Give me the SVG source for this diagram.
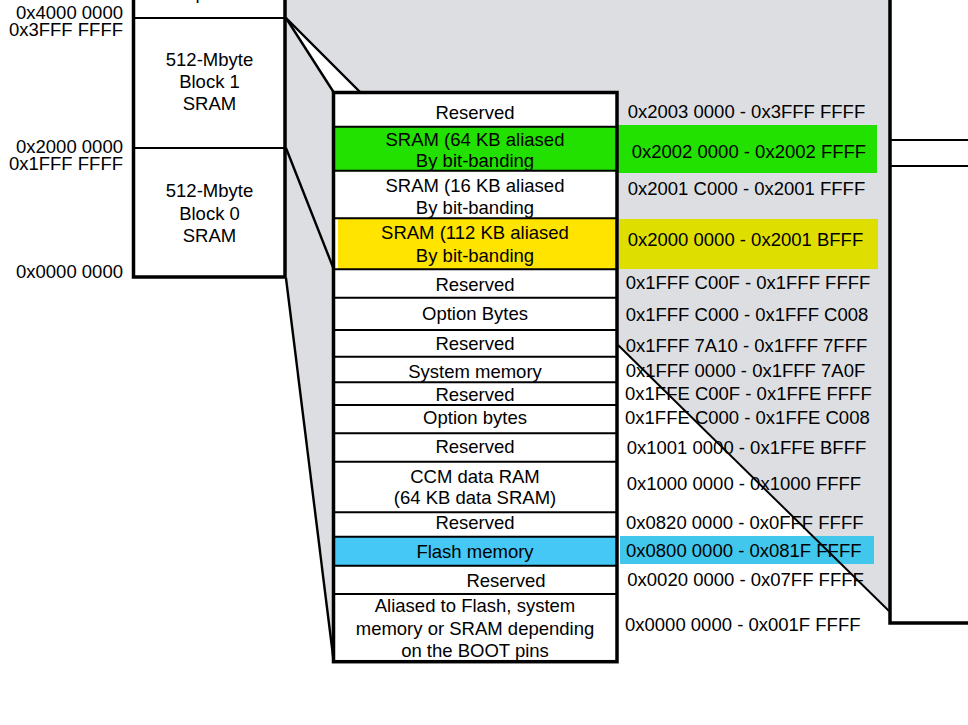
<svg xmlns="http://www.w3.org/2000/svg" width="968" height="725" viewBox="0 0 968 725">
<style>
text{font-family:"Liberation Sans",Arial,sans-serif;font-size:18.5px;fill:#000}
.c{text-anchor:middle}
.r{text-anchor:end}
.row{fill:#fff}
.dv{stroke:#000;stroke-width:2;fill:none}
.bd{stroke:#000;stroke-width:3.5;fill:none}
.cn{stroke:#000;stroke-width:2.4;fill:none}
</style>
<rect width="968" height="725" fill="#fff"/>
<g id="zoom-background">
<polygon points="286,0 890,0 890,612 618,344 333,662 286,278" fill="#DDDEE1"/>
<polygon points="286,18 360,92 333,92" fill="#fff"/>
</g>
<g id="left-column">
<rect x="133.5" y="-5" width="151.5" height="282" fill="#fff"/>
<g id="block-peripherals">
<text class="c" x="209.5" y="-1">Peripherals</text>
</g>
<g id="block1-sram">
<text class="c" x="209.5" y="65.7">512-Mbyte</text>
<text class="c" x="209.5" y="88">Block 1</text>
<text class="c" x="209.5" y="110">SRAM</text>
</g>
<g id="block0-sram">
<text class="c" x="209.5" y="197">512-Mbyte</text>
<text class="c" x="209.5" y="219.5">Block 0</text>
<text class="c" x="209.5" y="241.5">SRAM</text>
</g>
<path class="dv" d="M133.5,18H285M133.5,148H285"/>
<path class="bd" d="M133.5,-5V277H285V-5"/>
<g id="left-addresses">
<text class="r" x="123" y="19">0x4000 0000</text>
<text class="r" x="123" y="36">0x3FFF FFFF</text>
<text class="r" x="123" y="152.5">0x2000 0000</text>
<text class="r" x="123" y="170">0x1FFF FFFF</text>
<text class="r" x="123" y="277.5">0x0000 0000</text>
</g>
</g>
<g id="right-block">
<rect x="890" y="-5" width="85" height="628" fill="#fff"/>
<path class="dv" d="M890,140H968M890,166H968"/>
<path class="bd" d="M890,-5V623H975"/>
</g>
<g id="address-highlights">
<rect x="618" y="125" width="259" height="48" fill="#22E000"/>
<rect x="619" y="219" width="259" height="50" fill="#DEDE00"/>
<rect x="620" y="536" width="254" height="28" fill="#42C7EC"/>
</g>
<g id="sram-table">
<g id="row-reserved-1"><rect class="row" x="333" y="92.5" width="284" height="34.2"/><text class="c" x="475" y="119">Reserved</text></g>
<g id="row-sram-64kb"><rect x="333" y="126.7" width="284" height="44" fill="#22E000"/><text class="c" x="475" y="146">SRAM (64 KB aliased</text><text class="c" x="475" y="167.3">By bit-banding</text></g>
<g id="row-sram-16kb"><rect class="row" x="333" y="170.7" width="284" height="47.6"/><text class="c" x="475" y="191.7">SRAM (16 KB aliased</text><text class="c" x="475" y="214">By bit-banding</text></g>
<g id="row-sram-112kb"><rect class="row" x="333" y="218.3" width="284" height="51"/><rect x="338" y="218.3" width="279" height="51" fill="#FFE400"/><text class="c" x="475" y="239">SRAM (112 KB aliased</text><text class="c" x="475" y="261.7">By bit-banding</text></g>
<g id="row-reserved-2"><rect class="row" x="333" y="269.3" width="284" height="28.4"/><text class="c" x="475" y="290.7">Reserved</text></g>
<g id="row-option-bytes-1"><rect class="row" x="333" y="297.7" width="284" height="32.3"/><text class="c" x="475" y="320">Option Bytes</text></g>
<g id="row-reserved-3"><rect class="row" x="333" y="330" width="284" height="26.7"/><text class="c" x="475" y="350">Reserved</text></g>
<g id="row-system-memory"><rect class="row" x="333" y="356.7" width="284" height="25.6"/><text class="c" x="475" y="378.3">System memory</text></g>
<g id="row-reserved-4"><rect class="row" x="333" y="382.3" width="284" height="22.7"/><text class="c" x="475" y="400.7">Reserved</text></g>
<g id="row-option-bytes-2"><rect class="row" x="333" y="405" width="284" height="28.3"/><text class="c" x="475" y="424.3">Option bytes</text></g>
<g id="row-reserved-5"><rect class="row" x="333" y="433.3" width="284" height="28.4"/><text class="c" x="475" y="452.7">Reserved</text></g>
<g id="row-ccm"><rect class="row" x="333" y="461.7" width="284" height="50.6"/><text class="c" x="475" y="482.7">CCM data RAM</text><text class="c" x="475" y="504.3">(64 KB data SRAM)</text></g>
<g id="row-reserved-6"><rect class="row" x="333" y="512.3" width="284" height="24.4"/><text class="c" x="475" y="529.3">Reserved</text></g>
<g id="row-flash"><rect x="333" y="536.7" width="284" height="29" fill="#45C8F5"/><text class="c" x="475" y="557.7">Flash memory</text></g>
<g id="row-reserved-7"><rect class="row" x="333" y="565.7" width="284" height="28.3"/><text class="c" x="506" y="586.7">Reserved</text></g>
<g id="row-aliased"><rect class="row" x="333" y="594" width="284" height="67.7"/><text class="c" x="475" y="611.7">Aliased to Flash, system</text><text class="c" x="475" y="635">memory or SRAM depending</text><text class="c" x="475" y="656.7">on the BOOT pins</text></g>
<path class="dv" d="M333,126.7H617M333,170.7H617M333,218.3H617M333,269.3H617M333,297.7H617M333,330H617M333,356.7H617M333,382.3H617M333,405H617M333,433.3H617M333,461.7H617M333,512.3H617M333,536.7H617M333,565.7H617M333,594H617"/>
<rect class="bd" x="333.5" y="92.5" width="283.5" height="569.2"/>
</g>
<g id="address-labels">
<text x="627.7" y="118.3">0x2003 0000 - 0x3FFF FFFF</text>
<text x="631.7" y="158.3">0x2002 0000 - 0x2002 FFFF</text>
<text x="627.7" y="195">0x2001 C000 - 0x2001 FFFF</text>
<text x="627.7" y="245.7">0x2000 0000 - 0x2001 BFFF</text>
<text x="625.7" y="289">0x1FFF C00F - 0x1FFF FFFF</text>
<text x="625.7" y="320.7">0x1FFF C000 - 0x1FFF C008</text>
<text x="625.7" y="351.7">0x1FFF 7A10 - 0x1FFF 7FFF</text>
<text x="625.7" y="377.3">0x1FFF 0000 - 0x1FFF 7A0F</text>
<text x="625" y="400">0x1FFE C00F - 0x1FFE FFFF</text>
<text x="625" y="424">0x1FFE C000 - 0x1FFE C008</text>
<text x="626.7" y="454">0x1001 0000 - 0x1FFE BFFF</text>
<text x="626.7" y="490">0x1000 0000 - 0x1000 FFFF</text>
<text x="626" y="529.3">0x0820 0000 - 0x0FFF FFFF</text>
<text x="626" y="556.7">0x0800 0000 - 0x081F FFFF</text>
<text x="627.3" y="586">0x0020 0000 - 0x07FF FFFF</text>
<text x="625" y="630.7">0x0000 0000 - 0x001F FFFF</text>
</g>
<g id="connectors">
<line class="cn" x1="286" y1="18" x2="333.5" y2="92"/>
<line class="cn" x1="286" y1="18" x2="360" y2="92"/>
<line class="cn" x1="286" y1="148" x2="333.5" y2="268.5"/>
<line class="cn" x1="286" y1="278" x2="333.5" y2="660"/>
<line class="cn" x1="618" y1="345" x2="889" y2="611" style="stroke-width:2"/>
</g>
</svg>
